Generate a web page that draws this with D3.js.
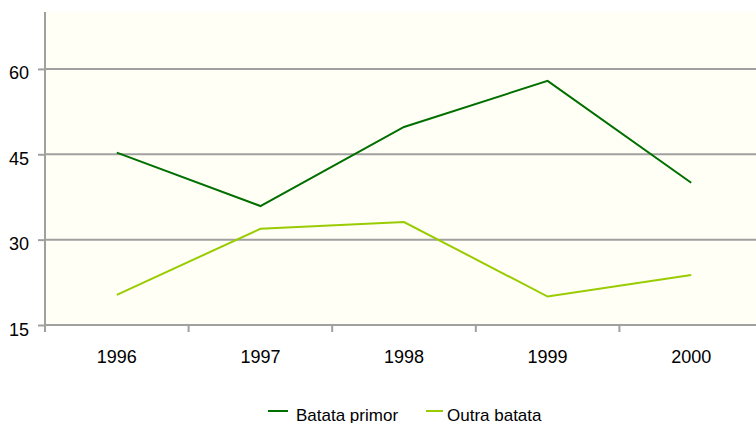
<!DOCTYPE html>
<html>
<head>
<meta charset="utf-8">
<script src="https://cdn.jsdelivr.net/npm/d3@7"></script>
<style>
  html, body { margin: 0; padding: 0; background: #ffffff; }
  svg { display: block; font-family: "Liberation Sans", Arial, sans-serif; }
</style>
</head>
<body>
<svg id="chart" width="756" height="423"></svg>
<script>
// Sweet-potato series, 1996–2000
const years = ["1996", "1997", "1998", "1999", "2000"];
const batataPrimor = [45.3, 35.9, 49.8, 57.9, 40.0];
const outraBatata = [20.3, 31.9, 33.1, 20.0, 23.8];
const yTicks = [15, 30, 45, 60];

const seriesNames = ["Batata primor", "Outra batata"];
const seriesColors = ["#006f00", "#99cc00"];
const seriesValues = [batataPrimor, outraBatata];

const svg = d3.select("#chart");
const plot = { left: 45, right: 763, top: 12, bottom: 325 };

const x = d3.scaleBand().domain(years).range([plot.left, plot.right]);
const y = d3.scaleLinear().domain([15, 70]).range([plot.bottom, plot.top]);

// plot background
svg.append("rect")
  .attr("x", plot.left).attr("y", plot.top)
  .attr("width", plot.right - plot.left).attr("height", plot.bottom - plot.top)
  .attr("fill", "#fffff5");

// horizontal gridlines
svg.append("g").selectAll("line")
  .data(yTicks.filter(d => d > 15))
  .join("line")
  .attr("x1", plot.left).attr("x2", plot.right)
  .attr("y1", d => y(d)).attr("y2", d => y(d))
  .attr("stroke", "#a0a0a0").attr("stroke-width", 2);

// y axis
const yAxis = svg.append("g")
  .attr("transform", `translate(${plot.left},0)`)
  .call(d3.axisLeft(y).tickValues(yTicks).tickSize(7).tickPadding(9).tickFormat(d3.format("d")));
yAxis.select(".domain").remove();
yAxis.append("line")
  .attr("x1", 0).attr("x2", 0).attr("y1", plot.top).attr("y2", plot.bottom)
  .attr("stroke", "#a0a0a0").attr("stroke-width", 2);
yAxis.selectAll(".tick line").attr("stroke", "#a0a0a0").attr("stroke-width", 2);
yAxis.selectAll(".tick text")
  .attr("fill", "#000")
  .attr("dy", null)
  .attr("y", 10)
  .style("font-size", "18px");

// x axis: ticks fall between categories
const xAxisG = svg.append("g").attr("transform", `translate(0,${plot.bottom})`);
xAxisG.append("line")
  .attr("x1", plot.left).attr("x2", plot.right).attr("y1", 0).attr("y2", 0)
  .attr("stroke", "#a0a0a0").attr("stroke-width", 2);
const boundaries = years.map(d => x(d)).concat([x(years[years.length - 1]) + x.bandwidth()]);
xAxisG.selectAll("line.tick")
  .data(boundaries)
  .join("line")
  .attr("class", "tick")
  .attr("x1", d => d).attr("x2", d => d).attr("y1", 0).attr("y2", 7)
  .attr("stroke", "#a0a0a0").attr("stroke-width", 2);
xAxisG.selectAll("text")
  .data(years)
  .join("text")
  .attr("x", d => x(d) + x.bandwidth() / 2)
  .attr("y", 38)
  .attr("text-anchor", "middle")
  .style("font-size", "18px")
  .attr("fill", "#000")
  .text(d => d);

// series lines
const line = d3.line()
  .x((d, i) => x(years[i]) + x.bandwidth() / 2)
  .y(d => y(d));

svg.append("g").selectAll("path")
  .data(seriesValues)
  .join("path")
  .attr("d", d => line(d))
  .attr("fill", "none")
  .attr("stroke", (d, i) => seriesColors[i])
  .attr("stroke-width", 2);

// legend
const legendLayout = [
  { x1: 268, x2: 288, tx: 296 },
  { x1: 426, x2: 443, tx: 447 }
];
const items = svg.append("g").selectAll("g")
  .data(seriesNames)
  .join("g");
items.append("line")
  .attr("x1", (d, i) => legendLayout[i].x1).attr("x2", (d, i) => legendLayout[i].x2)
  .attr("y1", 411).attr("y2", 411)
  .attr("stroke", (d, i) => seriesColors[i]).attr("stroke-width", 2);
items.append("text")
  .attr("x", (d, i) => legendLayout[i].tx).attr("y", 420.5)
  .style("font-size", "17px")
  .attr("fill", "#000")
  .text(d => d);
</script>
</body>
</html>
